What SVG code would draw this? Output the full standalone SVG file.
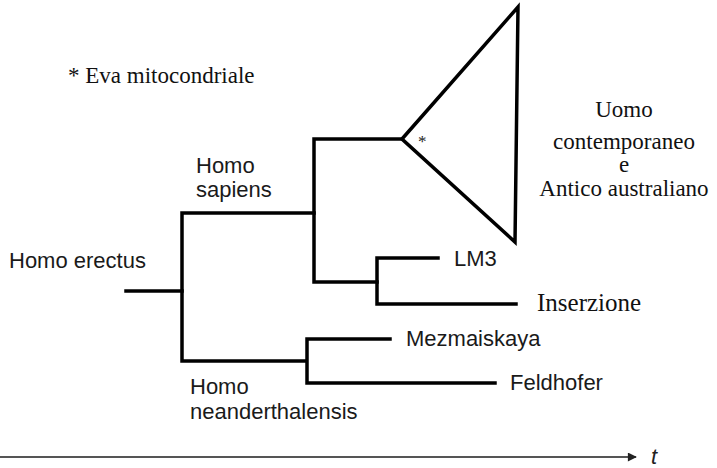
<svg xmlns="http://www.w3.org/2000/svg" width="717" height="468" viewBox="0 0 717 468">
<defs>
<style>
.ln{fill:none;stroke:#000;stroke-width:3.5;stroke-linecap:square;stroke-linejoin:miter}
.sans{font-family:"Liberation Sans",Arial,sans-serif;font-size:22px;fill:#1a1a1a}
.serif{font-family:"Liberation Serif","Times New Roman",serif;font-size:23px;fill:#111}
.big{font-size:25px}
.ast{font-size:17px;fill:#222}
.t{font-style:italic;font-size:22px;fill:#222}
</style>
<marker id="ah" viewBox="0 0 10 10" refX="9" refY="5" markerWidth="10" markerHeight="9" orient="auto" markerUnits="userSpaceOnUse">
<path d="M0,0 L10,5 L0,10 z" fill="#222"/>
</marker>
</defs>
<rect width="717" height="468" fill="#fff"/>
<g id="connectors">
<polyline class="ln" points="126,291 182,291"/>
<polyline class="ln" points="314,213 182,213 182,361 306,361"/>
<polyline class="ln" points="401,139 314,139 314,282 377,282"/>
<polyline class="ln" points="438,258 377,258 377,304 516,304"/>
<polyline class="ln" points="390,339 307,339 307,383 495,383"/>
<polygon class="ln" points="402,139 518,7 515,242"/>
<line x1="0" y1="457" x2="636" y2="457" stroke="#555" stroke-width="2" marker-end="url(#ah)"/>
</g>
<g id="legend"><text class="serif" x="68" y="83">* Eva mitocondriale</text></g>
<g id="homo-erectus"><text class="sans" x="9" y="268">Homo erectus</text></g>
<g id="homo-sapiens"><text class="sans" x="196" y="173">Homo</text><text class="sans" x="196" y="197">sapiens</text></g>
<g id="eva"><text class="serif ast" x="418" y="147">*</text></g>
<g id="uomo"><text class="serif" text-anchor="middle" x="624" y="117">Uomo</text><text class="serif" text-anchor="middle" x="624" y="149">contemporaneo</text><text class="serif" text-anchor="middle" x="624" y="172">e</text><text class="serif" text-anchor="middle" x="624" y="196">Antico australiano</text></g>
<g id="lm3"><text class="sans" x="454" y="266">LM3</text></g>
<g id="inserzione"><text class="serif big" x="537" y="311">Inserzione</text></g>
<g id="mezmaiskaya"><text class="sans" x="406" y="346">Mezmaiskaya</text></g>
<g id="feldhofer"><text class="sans" x="510" y="390">Feldhofer</text></g>
<g id="homo-neanderthalensis"><text class="sans" x="190" y="394">Homo</text><text class="sans" x="190" y="419">neanderthalensis</text></g>
<g id="time"><text class="sans t" x="651" y="464">t</text></g>
</svg>
